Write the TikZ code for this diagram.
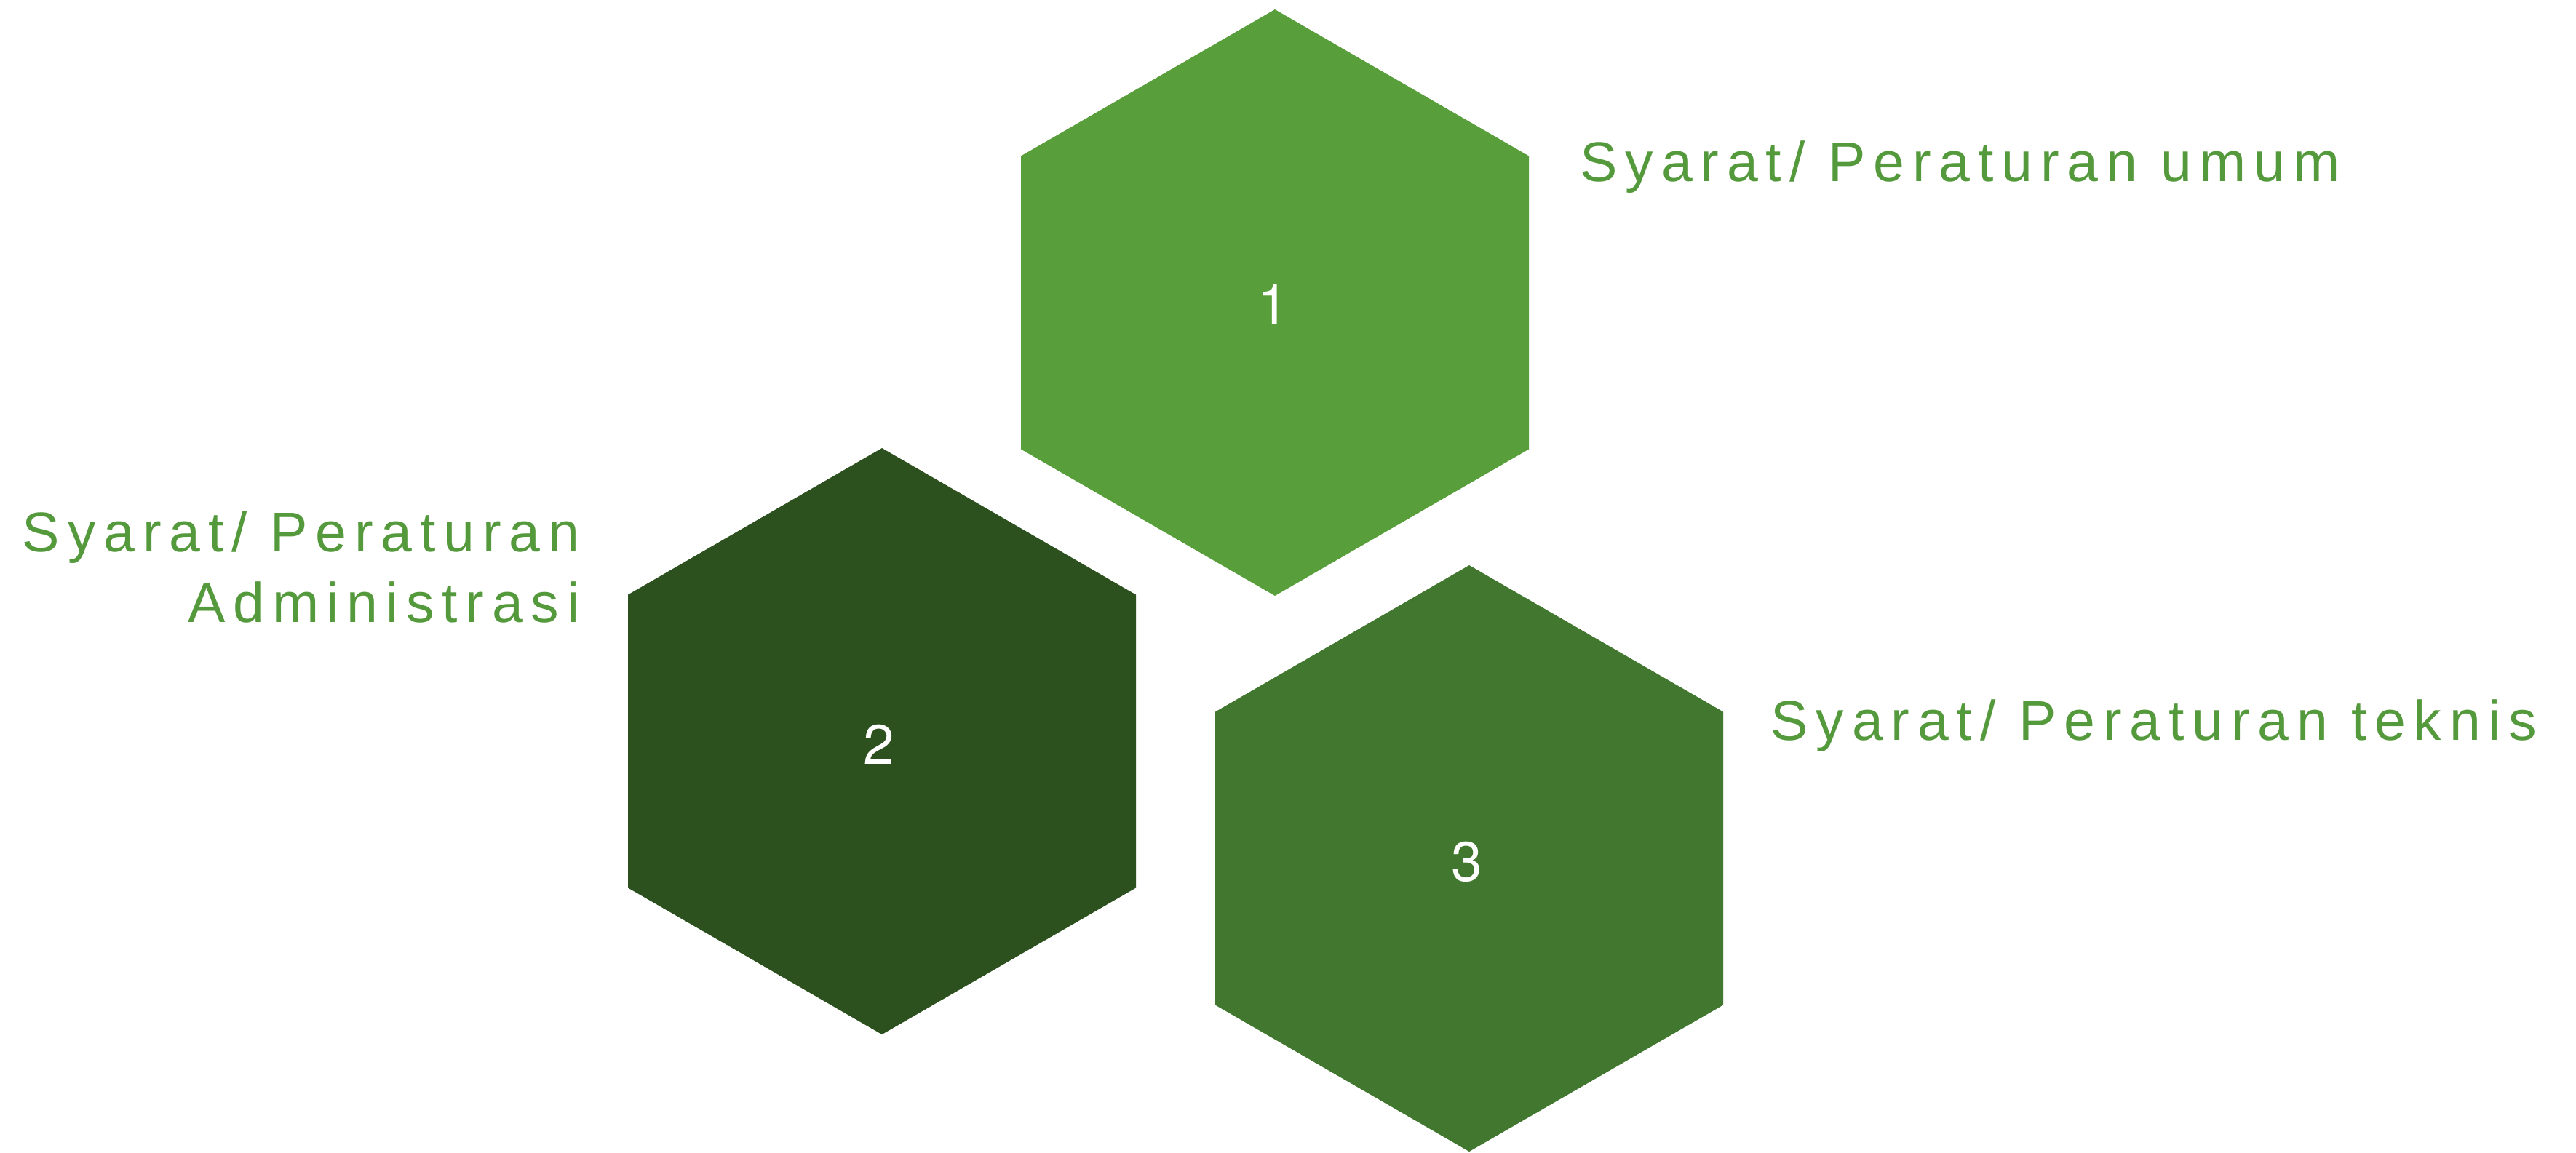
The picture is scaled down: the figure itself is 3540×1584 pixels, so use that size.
\documentclass[tikz,border=0pt]{standalone}
\usepackage{fontspec}
\setmainfont{Liberation Sans}
\newfontfamily\numfont{TeX Gyre Heros}
\newfontfamily\trackfont{Liberation Sans}[LetterSpace=14]
\definecolor{hexone}{HTML}{589E3A}
\definecolor{hextwo}{HTML}{2C501E}
\definecolor{hexthree}{HTML}{41772E}
\definecolor{labgreen}{HTML}{549A3C}
\begin{document}
\begin{tikzpicture}[x=0.01cm,y=-0.01cm,
  numtext/.style={text=white,font=\numfont\fontsize{21.8}{26}\selectfont,inner sep=0pt,anchor=center},
  labtext/.style={text=labgreen,font=\trackfont\fontsize{21.9}{27.6}\selectfont,inner sep=0pt}]
\useasboundingbox[fill=white] (0,0) rectangle (3540,1584);
% hexagons (pointy top), R = 403
\fill[hexone]   (1752,416)  ++(0,-403) -- ++(349,201.5) -- ++(0,403) -- ++(-349,201.5) -- ++(-349,-201.5) -- ++(0,-403) -- cycle;
\fill[hextwo]   (1212,1019) ++(0,-403) -- ++(349,201.5) -- ++(0,403) -- ++(-349,201.5) -- ++(-349,-201.5) -- ++(0,-403) -- cycle;
\fill[hexthree] (2019,1180) ++(0,-403) -- ++(349,201.5) -- ++(0,403) -- ++(-349,201.5) -- ++(-349,-201.5) -- ++(0,-403) -- cycle;
% numbers
\node[numtext] (n1) at (1750,418) {1};
\node[numtext] (n2) at (1208,1023) {2};
\node[numtext] (n3) at (2016,1185) {3};
% labels
\node[labtext,anchor=base west] (l1) at (2171,249) {Syarat/ Peraturan umum};
\node[labtext,anchor=base east] (l2a) at (797,758) {Syarat/ Peraturan};
\node[labtext,anchor=base east] (l2b) at (797,855) {Administrasi};
\node[labtext,anchor=base west] (l3) at (2433,1017) {Syarat/ Peraturan teknis};
\end{tikzpicture}
\end{document}
